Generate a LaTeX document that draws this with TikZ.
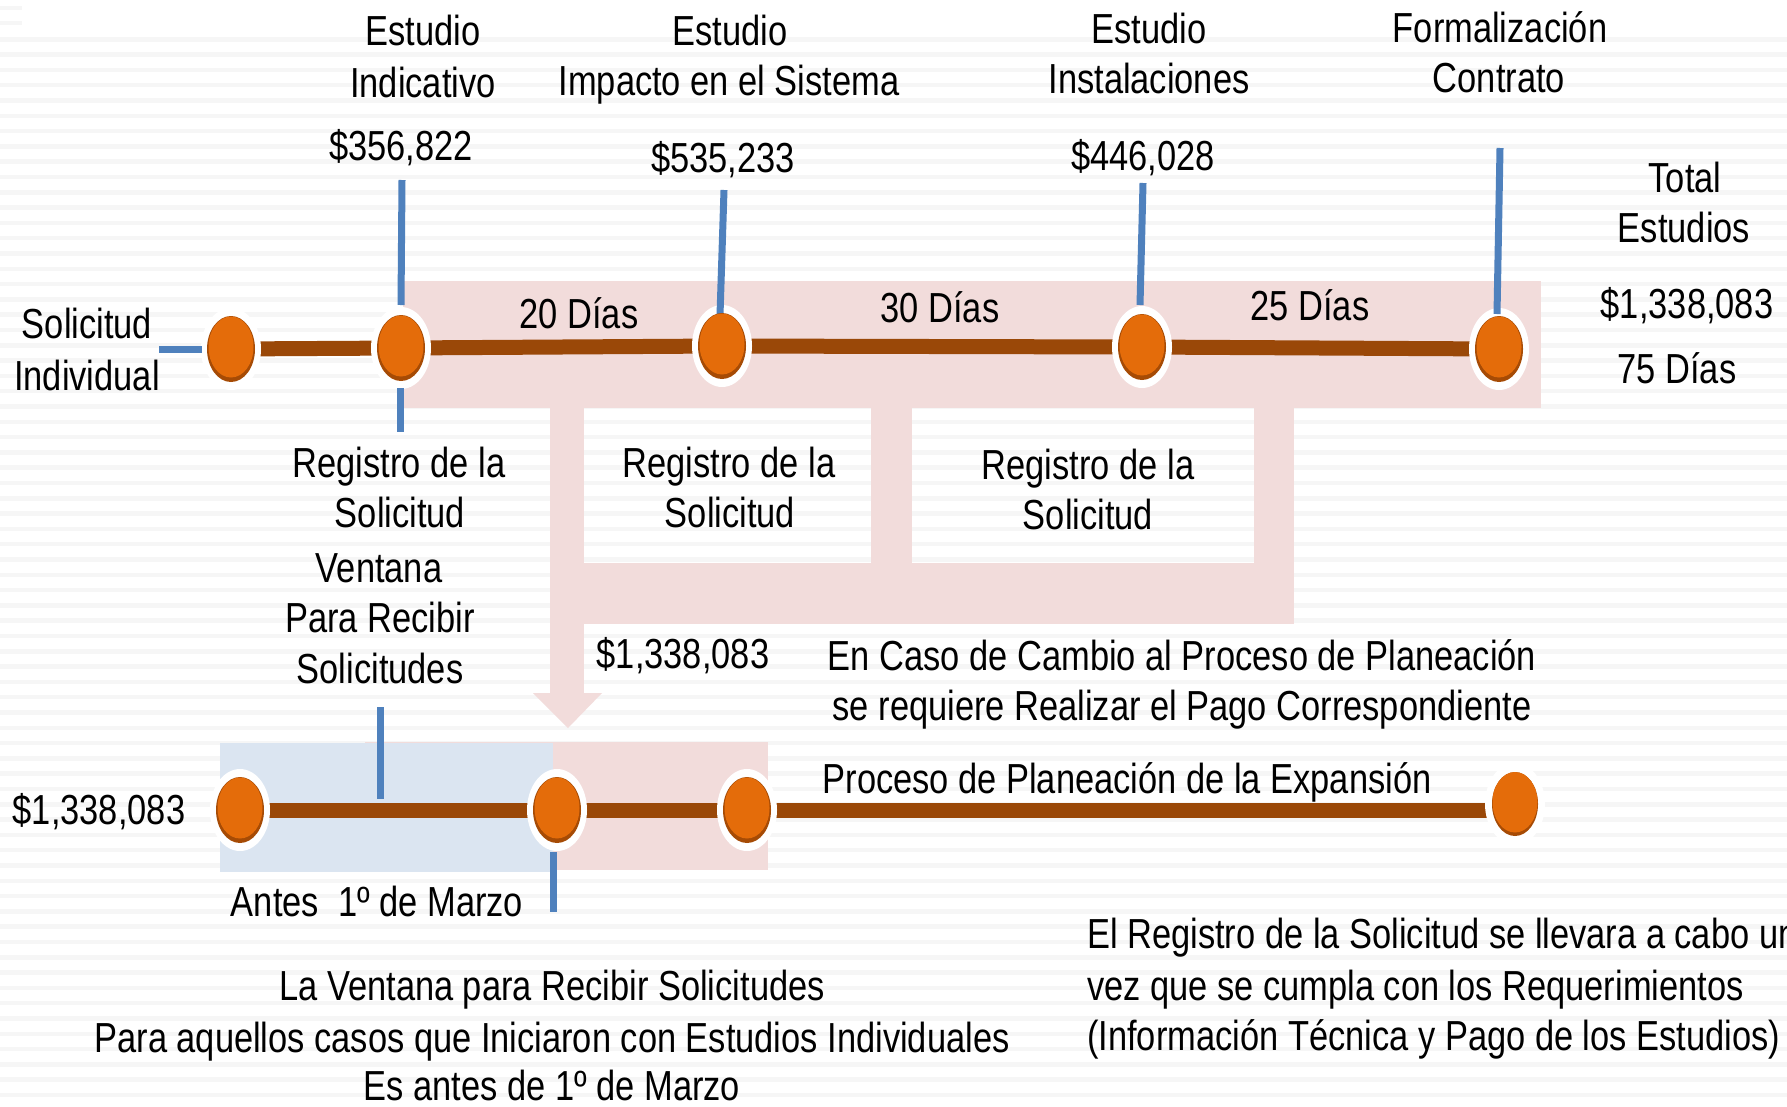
\documentclass[tikz,border=0pt]{standalone}
\usepackage{fontspec}
\setmainfont{Liberation Sans}[FakeStretch=0.82]
\usetikzlibrary{shapes.geometric}
\definecolor{pinkfill}{HTML}{F2DCDB}
\definecolor{bluefill}{HTML}{DBE5F1}
\definecolor{linkblue}{HTML}{4F81BD}
\definecolor{brownline}{HTML}{9A4808}
\definecolor{dotorange}{HTML}{E46C0A}
\definecolor{dotdark}{HTML}{A64B05}
\definecolor{stripecol}{HTML}{F6F6F6}
\begin{document}
\begin{tikzpicture}[x=1pt, y=-1pt,
  lbl/.style={inner sep=0pt, anchor=base, font=\fontsize{42}{51}\selectfont},
  lbll/.style={lbl, anchor=base west},
  tl/.style={draw=brownline, line width=15pt},
  conn/.style={draw=linkblue, line width=7pt},
  halo/.style={fill=white},
  tdot/.style={ellipse, minimum width=48pt, minimum height=66pt, inner sep=0pt,
    fill=dotdark,
    path picture={\fill[dotorange] ([yshift=2pt]path picture bounding box.center)
      ellipse [x radius=22.5pt, y radius=30.5pt];}},
]
\path[use as bounding box] (0,0) rectangle (1787,1106);
\clip (0,0) rectangle (1787,1106);
\fill[white] (0,0) rectangle (1787,1106);
% background stripes
\foreach \i in {0,...,70} {
  \fill[stripecol] (0,{37+\i*15.3}) rectangle (1787,{41.5+\i*15.3});
}
\fill[stripecol] (0,6) rectangle (22,10);
\fill[stripecol] (0,21) rectangle (22,25);

% pink flow shape
\fill[pinkfill] (403,281) rectangle (1541,408);
\fill[pinkfill] (550,406) rectangle (584,695);
\fill[pinkfill] (550,563) rectangle (1294,624);
\fill[pinkfill] (871,406) rectangle (912,565);
\fill[pinkfill] (1254,406) rectangle (1294,565);
\fill[pinkfill] (533,693) -- (602,693) -- (568,728) -- cycle;

% lower regions
\fill[pinkfill] (365,742) rectangle (768,870);
\fill[bluefill] (220,743) rectangle (553,872);

% dot positions
\coordinate (p1) at (231,349);
\coordinate (p2) at (401,348);
\coordinate (p3) at (722,346);
\coordinate (p4) at (1142,347);
\coordinate (p5) at (1499,349);
\coordinate (qa) at (240,810);
\coordinate (qb) at (557,810);
\coordinate (qc) at (747,810);
\coordinate (qd) at (1515,804);

% timelines
\draw[tl] (p1) -- (p2) -- (p3) -- (p4) -- (p5);
\draw[tl] (qa) -- (qb) -- (qc) -- (qc -| qd);

% halos
\foreach \p in {p1,p2,p3,p4,p5,qa,qb,qc,qd} {
  \fill[halo] (\p) ellipse [x radius=30, y radius=41];
}

% blue connectors
\coordinate (c0a) at (159,349); \coordinate (c0b) at (202,349);
\coordinate (c1a) at (402,180); \coordinate (c1b) at (401,305);
\coordinate (c2a) at (724,190); \coordinate (c2b) at (720,315);
\coordinate (c3a) at (1143,183); \coordinate (c3b) at (1140,305);
\coordinate (c4a) at (1500,148); \coordinate (c4b) at (1497,314);
\coordinate (c5a) at (400,388); \coordinate (c5b) at (400,432);
\coordinate (c6a) at (380,707); \coordinate (c6b) at (380,799);
\coordinate (c7a) at (553,852); \coordinate (c7b) at (553,912);
\draw[conn] (c0a) -- (c0b);
\draw[conn] (c1a) -- (c1b);
\draw[conn] (c2a) -- (c2b);
\draw[conn] (c3a) -- (c3b);
\draw[conn] (c4a) -- (c4b);
\draw[conn] (c5a) -- (c5b);
\draw[conn] (c6a) -- (c6b);
\draw[conn] (c7a) -- (c7b);

% dots
\node[tdot] (d1) at (p1) {};
\node[tdot] (d2) at (p2) {};
\node[tdot] (d3) at (p3) {};
\node[tdot] (d4) at (p4) {};
\node[tdot] (d5) at (p5) {};
\node[tdot] (da) at (qa) {};
\node[tdot] (db) at (qb) {};
\node[tdot] (dc) at (qc) {};
\node[tdot, minimum width=46pt, minimum height=64pt] (dd) at (qd) {};

% top labels
\node[lbl] (e1a) at (423,45) {Estudio};
\node[lbl] (e1b) at (423,97) {Indicativo};
\node[lbl] (m1) at (401,160) {\$356,822};
\node[lbl] (e2a) at (730,45) {Estudio};
\node[lbl] (e2b) at (729,95) {Impacto en el Sistema};
\node[lbl] (m2) at (723,172) {\$535,233};
\node[lbl] (e3a) at (1149,43) {Estudio};
\node[lbl] (e3b) at (1149,93) {Instalaciones};
\node[lbl] (m3) at (1143,170) {\$446,028};
\node[lbl] (e4a) at (1500,42) {Formalización};
\node[lbl] (e4b) at (1499,92) {Contrato};
\node[lbl] (t1) at (1685,192) {Total};
\node[lbl] (t2) at (1684,242) {Estudios};
\node[lbl] (t3) at (1687,318) {\$1,338,083};
\node[lbl] (t4) at (1677,383) {75 Días};
\node[lbl] (g1) at (579,328) {20 Días};
\node[lbl] (g2) at (940,322) {30 Días};
\node[lbl] (g3) at (1310,320) {25 Días};
\node[lbl] (s1) at (87,338) {Solicitud};
\node[lbl] (s2) at (87,390) {Individual};

% middle labels
\node[lbl] (r1a) at (399,477) {Registro de la};
\node[lbl] (r1b) at (400,527) {Solicitud};
\node[lbl] (v1) at (379,582) {Ventana};
\node[lbl] (v2) at (380,632) {Para Recibir};
\node[lbl] (v3) at (380,683) {Solicitudes};
\node[lbl] (r2a) at (729,477) {Registro de la};
\node[lbl] (r2b) at (730,527) {Solicitud};
\node[lbl] (r3a) at (1088,479) {Registro de la};
\node[lbl] (r3b) at (1088,529) {Solicitud};
\node[lbl] (mm) at (683,668) {\$1,338,083};
\node[lbl] (cc1) at (1182,670) {En Caso de Cambio al Proceso de Planeación};
\node[lbl] (cc2) at (1182,720) {se requiere Realizar el Pago Correspondiente};

% lower labels
\node[lbl] (pp) at (1127,793) {Proceso de Planeación de la Expansión};
\node[lbl] (ml) at (99,824) {\$1,338,083};
\node[lbl] (am) at (377,916) {Antes\ \ 1º de Marzo};
\node[lbl] (b1) at (552,1000) {La Ventana para Recibir Solicitudes};
\node[lbl] (b2) at (552,1052) {Para aquellos casos que Iniciaron con Estudios Individuales};
\node[lbl] (b3) at (552,1100) {Es antes de 1º de Marzo};
\node[lbll] (n1) at (1087,948) {El Registro de la Solicitud se llevara a cabo una};
\node[lbll] (n2) at (1087,1000) {vez que se cumpla con los Requerimientos};
\node[lbll] (n3) at (1087,1050) {(Información Técnica y Pago de los Estudios)};
\end{tikzpicture}
\end{document}
